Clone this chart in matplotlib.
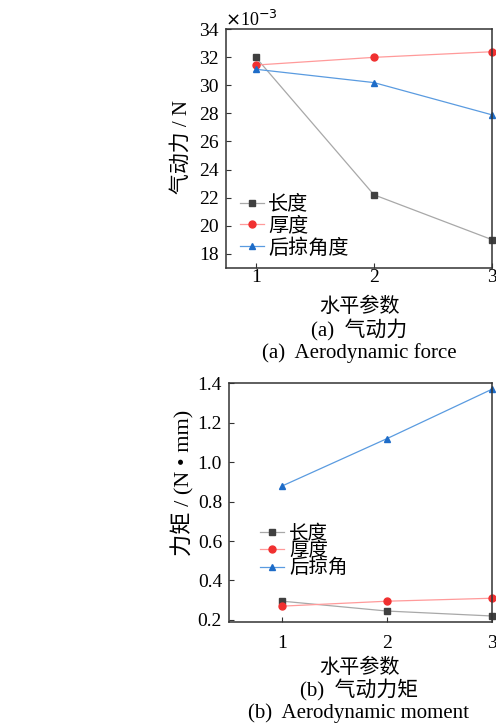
import matplotlib
matplotlib.use('Agg')
import matplotlib.pyplot as plt

plt.rcParams['font.family'] = ['Liberation Serif', 'Noto Sans CJK SC']
plt.rcParams['axes.unicode_minus'] = False

# level of each factor
levels = [1, 2, 3]

# (a) aerodynamic force, x10^-3 N
force_length = [32.0, 22.2, 19.0]
force_thick = [31.45, 32.0, 32.4]
force_sweep = [31.15, 30.2, 27.9]
force_ticks = [18, 20, 22, 24, 26, 28, 30, 32, 34]

# (b) aerodynamic moment, N*mm
moment_length = [0.295, 0.245, 0.22]
moment_thick = [0.27, 0.295, 0.31]
moment_sweep = [0.88, 1.12, 1.37]
moment_ticks = [0.2, 0.4, 0.6, 0.8, 1.0, 1.2, 1.4]

W, H = 496, 724
fig = plt.figure(figsize=(W / 100, H / 100), dpi=100)


def px(x, y):
    return x / W, 1 - y / H


def style(ax, xpad):
    for s in ax.spines.values():
        s.set_linewidth(1.1)
        s.set_color('#333333')
    ax.tick_params(direction='in', length=3.5, width=0.8, color='#333333',
                   labelsize=14, pad=5)
    ax.tick_params(axis='x', pad=xpad)
    ax.set_xticks(levels)


series_style = [
    dict(color='#a8a8a8', marker='s', mfc='#404040', mec='#404040'),
    dict(color='#ff9a9a', marker='o', mfc='#f03030', mec='#f03030'),
    dict(color='#5a9be0', marker='^', mfc='#1e6cc8', mec='#1e6cc8'),
]

# ---- (a)
ax1 = fig.add_axes([225.7 / W, 1 - 267.7 / H, (492 - 225.7) / W, (267.7 - 29.3) / H])
for vals, lab, st in zip([force_length, force_thick, force_sweep], ['长度', '厚度', '后掠角度'], series_style):
    ax1.plot(levels, vals, lw=0.9, ms=5, label=lab, clip_on=False, **st)
ax1.set_xlim(0.745, 3)
ax1.set_ylim(17, 34)
ax1.set_yticks(force_ticks)
style(ax1, 0.8)
ax1.legend(loc='lower left', bbox_to_anchor=(0.0, -0.02), frameon=False, fontsize=14.5,
           handlelength=1.2, handletextpad=0.2, labelspacing=0.12, borderaxespad=0.3)
fig.text(*px(225, 20), r'$\times$10$^{-3}$', fontsize=13, ha='left', va='center')
fig.text(*px(182, 147), '气动力 / N', rotation=90, fontsize=15, ha='center', va='center')
fig.text(*px(359, 307), '水平参数', fontsize=14.5, ha='center', va='center')
fig.text(*px(359, 330), '(a)  气动力', fontsize=15, ha='center', va='center')
fig.text(*px(359, 353), '(a)  Aerodynamic force', fontsize=15, ha='center', va='center')

# ---- (b)
ax2 = fig.add_axes([229 / W, 1 - 622.3 / H, (492 - 229) / W, (622.3 - 383.3) / H])
for vals, lab, st in zip([moment_length, moment_thick, moment_sweep], ['长度', '厚度', '后掠角'], series_style):
    ax2.plot(levels, vals, lw=0.9, ms=5, label=lab, clip_on=False, **st)
ax2.set_xlim(0.49, 3)
ax2.set_ylim(0.188, 1.4)
ax2.set_yticks(moment_ticks)
ax2.set_yticklabels(['%.1f' % t for t in moment_ticks])
style(ax2, 9.3)
ax2.legend(loc='lower left', bbox_to_anchor=(0.065, 0.13), frameon=False, fontsize=14,
           handlelength=1.25, handletextpad=0.25, labelspacing=-0.06, borderaxespad=0.3)
fig.text(*px(183, 483), '力矩 / (N • mm)', rotation=90, fontsize=16, ha='center', va='center')
fig.text(*px(359, 668), '水平参数', fontsize=14.5, ha='center', va='center')
fig.text(*px(359, 690), '(b)  气动力矩', fontsize=15, ha='center', va='center')
fig.text(*px(359, 713), '(b)  Aerodynamic moment', fontsize=15, ha='center', va='center')

fig.savefig('out.png', dpi=100)
